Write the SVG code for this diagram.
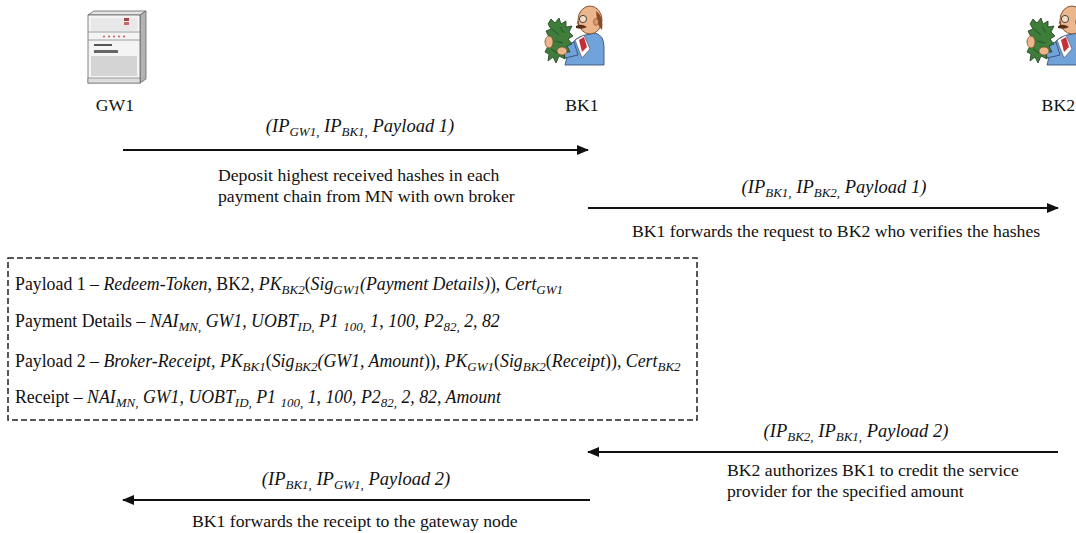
<svg xmlns="http://www.w3.org/2000/svg" xmlns:xlink="http://www.w3.org/1999/xlink" width="1076" height="533" viewBox="0 0 1076 533">
  <style>
    .t { font-family: "Liberation Serif", "Times New Roman", serif; font-size: 17.7px; fill: #111; }
    .lbl { font-size: 18.5px; }
    .bx { font-size: 17.8px; }
    .i { font-style: italic; }
    .s { font-size: 13px; }
    .arrow { stroke: #111; stroke-width: 2; fill: none; marker-end: url(#head); }
    .box { fill: none; stroke: #222; stroke-width: 1.5; stroke-dasharray: 6 3; }
  </style>
  <defs>
    <marker id="head" markerUnits="userSpaceOnUse" markerWidth="12" markerHeight="10" refX="11" refY="5" orient="auto">
      <path d="M0,0 L12,5 L0,10 Z" fill="#111"/>
    </marker>
    <!-- cartoon broker holding a bundle of bank notes; origin at top-left of the figure -->
    <g id="broker">
      <path d="M20,60 L24,44 Q28,33 40,30 L50,28 Q59,30 59,42 L59,60 Z" fill="#72a2da" stroke="#2b4470" stroke-width="0.8"/>
      <path d="M30,35 L39,30 L45,44 L37,53 Z" fill="#fff" stroke="#444" stroke-width="0.6"/>
      <path d="M34,35 L39,32 L42,42 L37,47 Z" fill="#c3303a"/>
      <path d="M15,42 L29,37 L33,50 L20,53 Z" fill="#72a2da" stroke="#2b4470" stroke-width="0.8"/>
      <ellipse cx="45" cy="15" rx="12" ry="14" fill="#ebb68c" stroke="#6b3b1e" stroke-width="0.8"/>
      <path d="M51,6 Q59,11 57,25 Q53,21 52,15 Z" fill="#8a4a24"/>
      <ellipse cx="51" cy="17" rx="2.5" ry="3.5" fill="#d99a72" stroke="#6b3b1e" stroke-width="0.5"/>
      <circle cx="38" cy="14" r="3.6" fill="#f6dcc4" stroke="#333" stroke-width="0.9"/>
      <path d="M33,16 Q31,19 34,20" fill="none" stroke="#6b3b1e" stroke-width="0.8"/>
      <path d="M31,21 Q36,18 42,22 Q37,25 31,23 Z" fill="#5a2f18"/>
      <polygon points="6,14 10,18 14,13 16,19 21,16 21,22 27,21 24,27 28,31 23,34 27,39 22,41 25,47 19,47 20,54 14,51 11,58 8,52 3,56 4,49 0,47 3,41 0,36 4,32 1,26 6,24 3,19" fill="#3f7d3b" stroke="#1f3f1d" stroke-width="0.8"/>
      <path d="M7,24 L14,30 M10,36 L18,38 M6,44 L12,48 M15,22 L19,28" stroke="#24502a" stroke-width="1"/>
      <ellipse cx="4" cy="37" rx="4" ry="6" fill="#ebb68c" stroke="#6b3b1e" stroke-width="0.6"/>
      <ellipse cx="17" cy="46" rx="5" ry="4" fill="#ebb68c" stroke="#6b3b1e" stroke-width="0.6"/>
    </g>
  </defs>

  <rect width="1076" height="533" fill="#fff"/>

  <!-- gateway node -->
  <g id="gw1">
    <polygon points="88,15 94,11 146,11 140,15" fill="#e4e4e4" stroke="#666" stroke-width="0.8"/>
    <polygon points="140,15 146,11 146,79 140,83" fill="#b3b3b3" stroke="#666" stroke-width="0.8"/>
    <rect x="88" y="15" width="52" height="68" fill="#f4f4f4" stroke="#666" stroke-width="0.8"/>
    <rect x="91" y="18" width="46" height="13" fill="#e8e8e8"/>
    <rect x="124" y="18" width="5" height="3" fill="#a44"/>
    <rect x="124" y="22" width="5" height="3" fill="#c66"/>
    <line x1="88" y1="32" x2="140" y2="32" stroke="#888" stroke-width="0.8"/>
    <g fill="#c55">
      <circle cx="104" cy="36.5" r="1"/><circle cx="109" cy="36.5" r="1"/><circle cx="114" cy="36.5" r="1"/><circle cx="119" cy="36.5" r="1"/><circle cx="124" cy="36.5" r="1"/>
    </g>
    <line x1="88" y1="40" x2="140" y2="40" stroke="#888" stroke-width="0.8"/>
    <rect x="94" y="44" width="18" height="2" fill="#555"/>
    <rect x="94" y="50" width="24" height="3" fill="#666"/>
    <g stroke="#9a9a9a" stroke-width="0.7">
      <line x1="91" y1="57" x2="137" y2="57"/><line x1="91" y1="59" x2="137" y2="59"/><line x1="91" y1="61" x2="137" y2="61"/><line x1="91" y1="63" x2="137" y2="63"/><line x1="91" y1="65" x2="137" y2="65"/><line x1="91" y1="67" x2="137" y2="67"/><line x1="91" y1="69" x2="137" y2="69"/><line x1="91" y1="71" x2="137" y2="71"/><line x1="91" y1="73" x2="137" y2="73"/><line x1="91" y1="75" x2="137" y2="75"/>
    </g>
    <rect x="88" y="78" width="52" height="5" fill="#ddd" stroke="#666" stroke-width="0.6"/>
    <text class="t" x="115" y="111" text-anchor="middle">GW1</text>
  </g>

  <!-- brokers -->
  <g id="bk1">
    <use xlink:href="#broker" x="545" y="5"/>
    <text class="t" x="582" y="111" text-anchor="middle">BK1</text>
  </g>
  <g id="bk2">
    <use xlink:href="#broker" x="1027" y="5"/>
    <text class="t" x="1075" y="111" text-anchor="end">BK2</text>
  </g>

  <!-- message flow -->
  <g id="connectors">
    <line class="arrow" x1="123" y1="150" x2="588" y2="150"/>
    <line class="arrow" x1="588" y1="208" x2="1058" y2="208"/>
    <line class="arrow" x1="1058" y1="452" x2="588" y2="452"/>
    <line class="arrow" x1="590" y1="500" x2="123" y2="500"/>
  </g>

  <g id="labels">
    <text class="t lbl i" x="360" y="132" text-anchor="middle">(IP<tspan class="s" dy="4">GW1,</tspan><tspan dy="-4"> IP</tspan><tspan class="s" dy="4">BK1,</tspan><tspan dy="-4"> Payload 1)</tspan></text>
    <text class="t" x="218" y="181">Deposit highest received hashes in each</text>
    <text class="t" x="218" y="202">payment chain from MN with own broker</text>

    <text class="t lbl i" x="834" y="193" text-anchor="middle">(IP<tspan class="s" dy="4">BK1,</tspan><tspan dy="-4"> IP</tspan><tspan class="s" dy="4">BK2,</tspan><tspan dy="-4"> Payload 1)</tspan></text>
    <text class="t" x="632" y="237">BK1 forwards the request to BK2 who verifies the hashes</text>

    <text class="t lbl i" x="856" y="437" text-anchor="middle">(IP<tspan class="s" dy="4">BK2,</tspan><tspan dy="-4"> IP</tspan><tspan class="s" dy="4">BK1,</tspan><tspan dy="-4"> Payload 2)</tspan></text>
    <text class="t" x="727" y="476">BK2 authorizes BK1 to credit the service</text>
    <text class="t" x="727" y="497">provider for the specified amount</text>

    <text class="t lbl i" x="356" y="485" text-anchor="middle">(IP<tspan class="s" dy="4">BK1,</tspan><tspan dy="-4"> IP</tspan><tspan class="s" dy="4">GW1,</tspan><tspan dy="-4"> Payload 2)</tspan></text>
    <text class="t" x="192" y="527">BK1 forwards the receipt to the gateway node</text>
  </g>

  <!-- payload definitions -->
  <g id="legend">
    <rect class="box" x="8" y="258" width="689" height="162"/>
    <text class="t bx" x="15" y="290">Payload 1 – <tspan class="i">Redeem-Token</tspan>, BK2, <tspan class="i">PK</tspan><tspan class="i s" dy="4">BK2</tspan><tspan dy="-4">(</tspan><tspan class="i">Sig</tspan><tspan class="i s" dy="4">GW1</tspan><tspan class="i" dy="-4">(Payment Details)</tspan>), <tspan class="i">Cert</tspan><tspan class="i s" dy="4">GW1</tspan></text>
    <text class="t bx" x="15" y="327">Payment Details – <tspan class="i">NAI</tspan><tspan class="i s" dy="4">MN,</tspan><tspan class="i" dy="-4"> GW1, UOBT</tspan><tspan class="i s" dy="4">ID,</tspan><tspan class="i" dy="-4"> P1 </tspan><tspan class="i s" dy="4">100,</tspan><tspan class="i" dy="-4"> 1, 100, P2</tspan><tspan class="i s" dy="4">82,</tspan><tspan class="i" dy="-4"> 2, 82</tspan></text>
    <text class="t bx" x="15" y="367">Payload 2 – <tspan class="i">Broker-Receipt, PK</tspan><tspan class="i s" dy="4">BK1</tspan><tspan dy="-4">(</tspan><tspan class="i">Sig</tspan><tspan class="i s" dy="4">BK2</tspan><tspan class="i" dy="-4">(GW1, Amount</tspan>)), <tspan class="i">PK</tspan><tspan class="i s" dy="4">GW1</tspan><tspan dy="-4">(</tspan><tspan class="i">Sig</tspan><tspan class="i s" dy="4">BK2</tspan><tspan dy="-4">(</tspan><tspan class="i">Receipt</tspan>)), <tspan class="i">Cert</tspan><tspan class="i s" dy="4">BK2</tspan></text>
    <text class="t bx" x="15" y="403">Receipt – <tspan class="i">NAI</tspan><tspan class="i s" dy="4">MN,</tspan><tspan class="i" dy="-4"> GW1, UOBT</tspan><tspan class="i s" dy="4">ID,</tspan><tspan class="i" dy="-4"> P1 </tspan><tspan class="i s" dy="4">100,</tspan><tspan class="i" dy="-4"> 1, 100, P2</tspan><tspan class="i s" dy="4">82,</tspan><tspan class="i" dy="-4"> 2, 82, Amount</tspan></text>
  </g>
</svg>
